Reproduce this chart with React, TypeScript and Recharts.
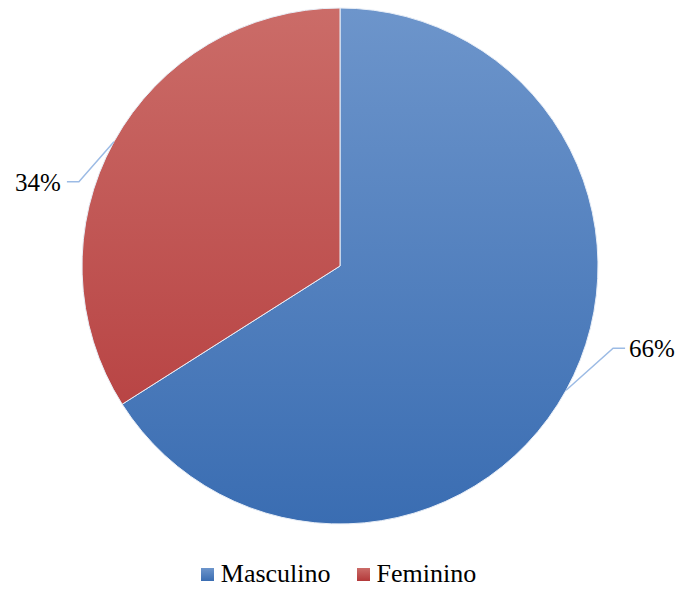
import { PieChart, Pie, Cell, Legend } from "recharts"

const categories = ["Masculino", "Feminino"]
const shares = [66, 34]

const gradients = [
  { id: "gradMasc", top: "#6d95cb", bottom: "#3a6db2" },
  { id: "gradFem", top: "#cb6c68", bottom: "#b3393a" },
]

// leader line elbow offsets from the slice edge (dx, dy), and tail direction
const leaderOffsets = [
  { dx: 47, dy: -42, tail: 12 },
  { dx: -35, dy: 40, tail: -12 },
]

const data = categories.map((name, i) => ({ name, value: shares[i] }))

const RADIAN = Math.PI / 180
const SERIF = "Liberation Serif"

function renderLabel(props: any) {
  const { cx, cy, midAngle, outerRadius, percent, index } = props
  const x0 = cx + outerRadius * Math.cos(-midAngle * RADIAN)
  const y0 = cy + outerRadius * Math.sin(-midAngle * RADIAN)
  const off = leaderOffsets[index]
  const x1 = x0 + off.dx
  const y1 = y0 + off.dy
  const x2 = x1 + off.tail
  const right = off.tail > 0
  return (
    <g>
      <polyline
        points={`${x0},${y0} ${x1},${y1} ${x2},${y1}`}
        fill="none"
        stroke="#9cbbe5"
        strokeWidth={1.5}
      />
      <text
        x={right ? x2 + 4 : x2 - 6}
        y={y1 + 9}
        textAnchor={right ? "start" : "end"}
        style={{ fontFamily: SERIF, fontSize: 25 }}
        fill="#000"
      >
        {`${Math.round(percent * 100)}%`}
      </text>
    </g>
  )
}

function renderLegend() {
  return (
    <div
      style={{
        display: "flex",
        justifyContent: "center",
        alignItems: "center",
        fontFamily: SERIF,
        fontSize: 26,
        color: "#000",
        lineHeight: "28px",
      }}
    >
      {categories.map((name, i) => (
        <div
          key={name}
          style={{ display: "flex", alignItems: "center", marginRight: i === 0 ? 26 : 0 }}
        >
          <svg width={13} height={13} style={{ marginRight: 7 }}>
            <defs>
              <linearGradient id={`lg${i}`} x1="0" y1="0" x2="0" y2="1">
                <stop offset="0%" stopColor={gradients[i].top} />
                <stop offset="100%" stopColor={gradients[i].bottom} />
              </linearGradient>
            </defs>
            <rect width={13} height={13} fill={`url(#lg${i})`} />
          </svg>
          <span>{name}</span>
        </div>
      ))}
    </div>
  )
}

export default function App() {
  return (
    <div style={{ position: "absolute", left: 0, top: 0, background: "#fff" }}>
      <PieChart width={677} height={589} margin={{ top: 0, right: 0, bottom: 0, left: 0 }}>
        <defs>
          {gradients.map((g) => (
            <linearGradient
              key={g.id}
              id={g.id}
              gradientUnits="userSpaceOnUse"
              x1="0"
              y1="8"
              x2="0"
              y2="524"
            >
              <stop offset="0%" stopColor={g.top} />
              <stop offset="100%" stopColor={g.bottom} />
            </linearGradient>
          ))}
        </defs>
        <Pie
          data={data}
          dataKey="value"
          nameKey="name"
          cx={340}
          cy={266}
          outerRadius={258}
          startAngle={90}
          endAngle={-270}
          stroke="#e8eef7"
          strokeWidth={1}
          label={renderLabel}
          labelLine={false}
          isAnimationActive={false}
        >
          {data.map((d, i) => (
            <Cell key={d.name} fill={`url(#${gradients[i].id})`} />
          ))}
        </Pie>
        <Legend
          content={renderLegend}
          wrapperStyle={{ position: "absolute", left: 0, top: 560, width: 677 }}
        />
      </PieChart>
    </div>
  )
}
